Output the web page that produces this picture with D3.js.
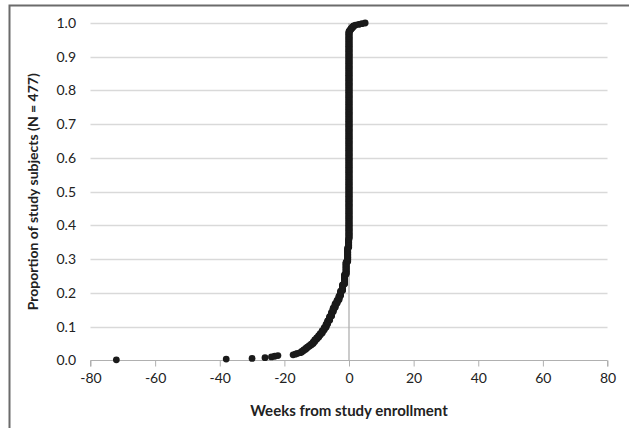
<!DOCTYPE html>
<html>
<head>
<meta charset="utf-8">
<script src="https://cdn.jsdelivr.net/npm/d3@7"></script>
<style>
  html, body { margin: 0; padding: 0; background: #fff; }
  svg { display: block; }
  text { font-family: Lato, "Open Sans", sans-serif; fill: #222; }
</style>
</head>
<body>
<svg id="chart" width="629" height="428"></svg>
<script>
// Weeks from study enrollment (distinct values) and number of subjects at each value
const weeks = [-72, -38, -30, -26, -24, -23, -22,
  -17.3, -16.6, -16.0, -15.1, -14.6, -14.0, -13.4, -12.9, -12.3, -11.7, -11.1, -10.6, -10.0,
  -9.4, -8.9, -8.3, -7.7, -7.1, -6.6, -6.0, -5.4, -4.9, -4.3, -3.7, -3.1, -2.6, -2.0, -1.4,
  -0.9, -0.4, -0.1, 0, 0.3, 0.6, 1.0, 1.4, 2.0, 3.0, 4.0, 5.0];
const counts = [1, 1, 1, 1, 1, 1, 1,
  1, 1, 1, 1, 2, 2, 2, 2, 2, 2, 3, 3, 3,
  3, 3, 4, 4, 5, 5, 6, 6, 6, 6, 5, 6, 7, 9, 14,
  18, 20, 12, 294, 2, 2, 2, 2, 1, 1, 1, 1];
const N = 477;
const xTicks = [-80, -60, -40, -20, 0, 20, 40, 60, 80];
const yTicks = [0, 0.1, 0.2, 0.3, 0.4, 0.5, 0.6, 0.7, 0.8, 0.9, 1.0];
const xTitle = "Weeks from study enrollment";
const yTitle = "Proportion of study subjects (N = 477)";

// Expand to one point per subject, cumulative proportion
const points = [];
let cum = 0;
weeks.forEach((w, i) => {
  for (let k = 0; k < counts[i]; k++) {
    cum += 1;
    points.push({ x: w, y: cum / N });
  }
});

const svg = d3.select("#chart");
const x = d3.scaleLinear().domain([-80, 80]).range([90.5, 607.5]);
const y = d3.scaleLinear().domain([0, 1]).range([360.5, 23]);

// outer border
svg.append("path")
  .attr("d", "M9.5,440 L9.5,5.5 L640,5.5")
  .attr("fill", "none").attr("stroke", "#6b6b6b").attr("stroke-width", 2);

// horizontal gridlines
svg.append("g").selectAll("line").data(yTicks.filter(d => d > 0)).join("line")
  .attr("x1", x(-80)).attr("x2", x(80))
  .attr("y1", d => Math.round(y(d)) + 0.5).attr("y2", d => Math.round(y(d)) + 0.5)
  .attr("stroke", "#d9d9d9").attr("stroke-width", 1.3);

// x axis line with ticks
const xAxis = d3.axisBottom(x).tickValues(xTicks).tickSize(6).tickPadding(7)
  .tickFormat(d => String(d));
const gx = svg.append("g").attr("transform", `translate(0,${y(0)})`).call(xAxis);
gx.select(".domain").attr("stroke", "#b0b0b0").attr("d", `M${x(-80)},6V0H${x(80)}V6`);
gx.selectAll(".tick line").attr("stroke", "#b0b0b0");
gx.selectAll(".tick text").attr("font-size", 14).attr("fill", "#222")
  .style("font-family", "Lato, 'Open Sans', sans-serif");

// vertical axis line at x = 0
svg.append("line")
  .attr("x1", x(0)).attr("x2", x(0)).attr("y1", y(1)).attr("y2", y(0))
  .attr("stroke", "#b0b0b0").attr("stroke-width", 1.3);

// y tick labels (on the left)
const yAxis = d3.axisLeft(y).tickValues(yTicks).tickSize(0).tickPadding(0).tickFormat(d3.format(".1f"));
const gy = svg.append("g").attr("transform", `translate(76,0)`).call(yAxis);
gy.select(".domain").remove();
gy.selectAll(".tick text").attr("font-size", 14).attr("fill", "#222")
  .style("font-family", "Lato, 'Open Sans', sans-serif");

// points
svg.append("g").selectAll("circle").data(points).join("circle")
  .attr("cx", d => x(d.x)).attr("cy", d => y(d.y))
  .attr("r", 3.4).attr("fill", "#1a1a1a");

// titles
svg.append("text").attr("x", x(0)).attr("y", 416)
  .attr("text-anchor", "middle").attr("font-size", 15).attr("font-weight", "bold")
  .text(xTitle);
svg.append("text")
  .attr("transform", `translate(38,${(y(0) + y(1)) / 2}) rotate(-90)`)
  .attr("text-anchor", "middle").attr("font-size", 14).attr("font-weight", "bold")
  .text(yTitle);
</script>
</body>
</html>
